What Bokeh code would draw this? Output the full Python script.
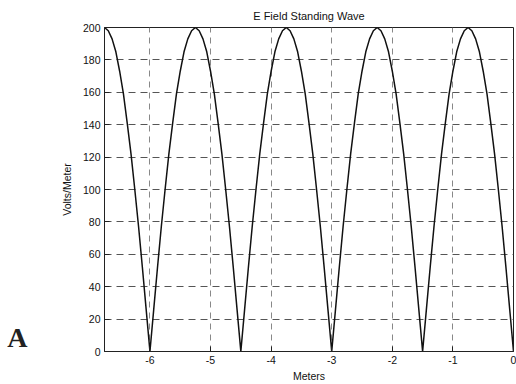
from bokeh.plotting import figure
from bokeh.layouts import row
from bokeh.models import Range1d, FixedTicker
from bokeh.core.properties import value
from bokeh.embed import file_html
from bokeh.resources import INLINE

# Position along the line (m) and field magnitude (V/m)
meters = [-6.75, -6.6875, -6.625, -6.5625, -6.5, -6.4375, -6.375, -6.3125, -6.25, -6.1875,
          -6.125, -6.0625, -6.0, -5.9375, -5.875, -5.8125, -5.75, -5.6875, -5.625, -5.5625,
          -5.5, -5.4375, -5.375, -5.3125, -5.25, -5.1875, -5.125, -5.0625, -5.0, -4.9375,
          -4.875, -4.8125, -4.75, -4.6875, -4.625, -4.5625, -4.5, -4.4375, -4.375, -4.3125,
          -4.25, -4.1875, -4.125, -4.0625, -4.0, -3.9375, -3.875, -3.8125, -3.75, -3.6875,
          -3.625, -3.5625, -3.5, -3.4375, -3.375, -3.3125, -3.25, -3.1875, -3.125, -3.0625,
          -3.0, -2.9375, -2.875, -2.8125, -2.75, -2.6875, -2.625, -2.5625, -2.5, -2.4375,
          -2.375, -2.3125, -2.25, -2.1875, -2.125, -2.0625, -2.0, -1.9375, -1.875, -1.8125,
          -1.75, -1.6875, -1.625, -1.5625, -1.5, -1.4375, -1.375, -1.3125, -1.25, -1.1875,
          -1.125, -1.0625, -1.0, -0.9375, -0.875, -0.8125, -0.75, -0.6875, -0.625, -0.5625,
          -0.5, -0.4375, -0.375, -0.3125, -0.25, -0.1875, -0.125, -0.0625, 0.0]
volts = [200, 198, 193, 185, 173, 159, 141, 122, 100, 77,
         52, 26, 0, 26, 52, 77, 100, 122, 141, 159,
         173, 185, 193, 198, 200, 198, 193, 185, 173, 159,
         141, 122, 100, 77, 52, 26, 0, 26, 52, 77,
         100, 122, 141, 159, 173, 185, 193, 198, 200, 198,
         193, 185, 173, 159, 141, 122, 100, 77, 52, 26,
         0, 26, 52, 77, 100, 122, 141, 159, 173, 185,
         193, 198, 200, 198, 193, 185, 173, 159, 141, 122,
         100, 77, 52, 26, 0, 26, 52, 77, 100, 122,
         141, 159, 173, 185, 193, 198, 200, 198, 193, 185,
         173, 159, 141, 122, 100, 77, 52, 26, 0]

x_ticks = [-6, -5, -4, -3, -2, -1, 0]
x_tick_labels = ["-6", "-5", "-4", "-3", "-2", "-1", "0"]
y_ticks = [0, 20, 40, 60, 80, 100, 120, 140, 160, 180, 200]

FONT = "Liberation Sans"

# Narrow strip holding the panel letter
side = figure(width=32, height=384, output_backend="svg", toolbar_location=None,
              x_range=Range1d(0, 1), y_range=Range1d(0, 1),
              min_border_left=0, min_border_right=0, min_border_top=0,
              min_border_bottom=0)
side.axis.visible = False
side.grid.visible = False
side.outline_line_color = None
side.text(x=[0.53], y=[0.042], text=["A"], text_font=value("Liberation Serif"),
          text_font_size="28px", text_font_style="bold", text_color="#222222",
          text_align="center", text_baseline="alphabetic")

p = figure(width=484, height=384, output_backend="svg", toolbar_location=None,
           x_range=Range1d(-6.75, 0), y_range=Range1d(0, 200),
           min_border_left=72, min_border_right=3, min_border_top=27,
           min_border_bottom=4, title="E Field Standing Wave")

p.title.align = "center"
p.title.text_font = FONT
p.title.text_font_size = "11px"
p.title.text_font_style = "normal"
p.title.text_color = "#111111"
p.title.standoff = 12

p.line(meters, volts, line_color="#111111", line_width=1.5)

for ax in (p.xaxis[0], p.yaxis[0]):
    ax.major_label_text_font = FONT
    ax.major_label_text_font_size = "10.5px"
    ax.major_label_text_color = "#111111"
    ax.axis_label_text_font = FONT
    ax.axis_label_text_font_size = "10.5px"
    ax.axis_label_text_font_style = "normal"
    ax.axis_label_text_color = "#111111"
    ax.major_tick_in = 5
    ax.major_tick_out = 0
    ax.minor_tick_in = 0
    ax.minor_tick_out = 0
    ax.axis_line_color = "#222222"
    ax.major_tick_line_color = "#222222"
    ax.major_label_standoff = 4

p.xaxis.ticker = FixedTicker(ticks=x_ticks)
p.xaxis.major_label_overrides = dict(zip(x_ticks, x_tick_labels))
p.yaxis.ticker = FixedTicker(ticks=y_ticks)
p.xaxis.axis_label = "Meters"
p.yaxis.axis_label = "Volts/Meter"
p.xaxis.axis_label_standoff = 3
p.yaxis.axis_label_standoff = 7

p.xgrid.grid_line_color = "#888888"
p.xgrid.grid_line_dash = "6 5"
p.xgrid.grid_line_width = 1
p.ygrid.grid_line_color = "#555555"
p.ygrid.grid_line_dash = "7 5"
p.ygrid.grid_line_width = 1

p.outline_line_color = "#222222"
p.outline_line_width = 1

open("out.html", "w").write(file_html(row(side, p, spacing=0), INLINE))
